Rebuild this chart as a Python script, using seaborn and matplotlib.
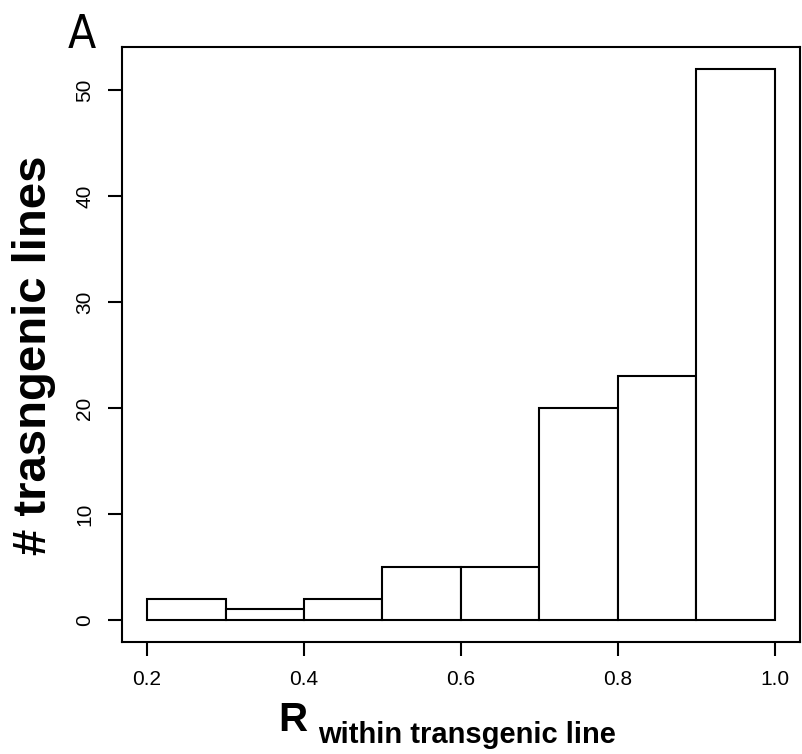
import numpy as np
import pandas as pd
import matplotlib
matplotlib.use("Agg")
import matplotlib.pyplot as plt
import seaborn as sns

# histogram of R values: bin edges and counts
bin_edges = [0.2, 0.3, 0.4, 0.5, 0.6, 0.7, 0.8, 0.9, 1.0]
counts = [2, 1, 2, 5, 5, 20, 23, 52]
x_ticks = [0.2, 0.4, 0.6, 0.8, 1.0]
y_ticks = [0, 10, 20, 30, 40, 50]

bin_mids = [(a + b) / 2 for a, b in zip(bin_edges[:-1], bin_edges[1:])]
df = pd.DataFrame({"R": bin_mids, "n": counts})

sns.set_theme(style="ticks")
plt.rcParams["font.family"] = ["Liberation Sans", "DejaVu Sans"]
plt.rcParams["axes.linewidth"] = 1.5
plt.rcParams["text.color"] = "black"
plt.rcParams["axes.labelcolor"] = "black"

fig = plt.figure(figsize=(8.02, 7.54), dpi=100)
ax = fig.add_axes([0.152, 0.1485, 0.8455, 0.7892])

sns.histplot(data=df, x="R", weights="n", bins=bin_edges, ax=ax,
             color="white", edgecolor="black", linewidth=1.5, alpha=1)

# R style: 4% padding on both axes
xr = bin_edges[-1] - bin_edges[0]
ax.set_xlim(bin_edges[0] - 0.04 * xr, bin_edges[-1] + 0.04 * xr)
yr = max(counts)
ax.set_ylim(-0.04 * yr, yr * 1.04)

ax.set_xticks(x_ticks)
ax.set_xticklabels([f"{t:.1f}" for t in x_ticks])
ax.set_yticks(y_ticks)
ax.set_yticklabels([str(t) for t in y_ticks], rotation=90, va="center")
ax.tick_params(axis="both", length=10, width=1.5, labelsize=15, pad=10,
               colors="black")
for s in ax.spines.values():
    s.set_color("black")
    s.set_visible(True)

ax.set_xlabel("")
ax.set_ylabel("# trasngenic lines", fontsize=34, fontweight="bold", color="black")
ax.yaxis.set_label_coords(-0.097, 0.4815)

# x label with subscript, drawn as two pieces
fig.text(0.3466, 0.0305, "R", fontsize=29, fontweight="bold", color="black",
         ha="left", va="baseline")
fig.text(0.3965, 0.0145, "within transgenic line", fontsize=21, fontweight="bold",
         color="black", ha="left", va="baseline")

# panel letter
fig.text(0.085, 0.936, "A", fontsize=33, fontweight=200, color="black",
         family=["DejaVu Sans"], fontstretch="condensed", ha="left", va="baseline")

fig.savefig("out.png", dpi=100)
